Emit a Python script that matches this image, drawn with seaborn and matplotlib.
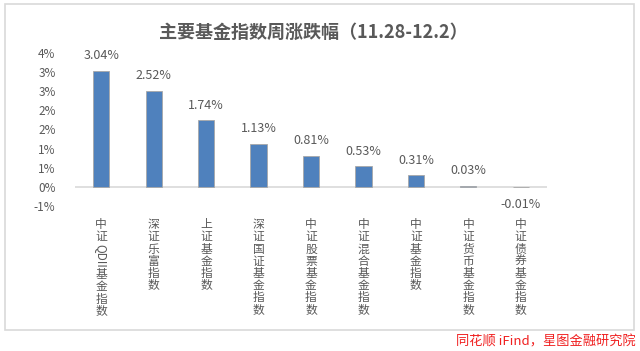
import matplotlib
matplotlib.use("Agg")
import matplotlib.pyplot as plt
import seaborn as sns
import pandas as pd
from matplotlib.patches import Rectangle

# ---- data ----
categories = ["中证QDII基金指数", "深证乐富指数", "上证基金指数", "深证国证基金指数",
              "中证股票基金指数", "中证混合基金指数", "中证基金指数", "中证货币基金指数",
              "中证债券基金指数"]
values = [3.04, 2.52, 1.74, 1.13, 0.81, 0.53, 0.31, 0.03, -0.01]
value_labels = ["3.04%", "2.52%", "1.74%", "1.13%", "0.81%", "0.53%", "0.31%", "0.03%", "-0.01%"]
ytick_values = [-0.5, 0.0, 0.5, 1.0, 1.5, 2.0, 2.5, 3.0, 3.5]
ytick_labels = ["-1%", "0%", "1%", "1%", "2%", "2%", "3%", "3%", "4%"]
title = "主要基金指数周涨跌幅（11.28-12.2）"
source = "同花顺 iFind，星图金融研究院"

sns.set_theme(style="white")
plt.rcParams["font.family"] = ["Noto Sans CJK SC", "DejaVu Sans"]
plt.rcParams["axes.unicode_minus"] = False

W, H = 640, 351
TXT = "#595959"
LAB_FS = 8.5
LSP = 0.92
fig = plt.figure(figsize=(W / 100, H / 100), dpi=100)
fig.patch.set_facecolor("white")

# outer frame
fig.add_artist(Rectangle((5 / W, 1 - 330 / H), (634 - 5) / W, (330 - 3.5) / H,
                         transform=fig.transFigure, fill=False,
                         edgecolor="#d9d9d9", linewidth=1.2))

left, right = 75 / W, 547 / W
top_px, bot_px = 53.3, 205.7
ax = fig.add_axes([left, 1 - bot_px / H, right - left, (bot_px - top_px) / H])

df = pd.DataFrame({"cat": categories, "val": values})
sns.barplot(data=df, x="cat", y="val", color="#4F81BD", width=0.31,
            edgecolor="#a8a8a8", linewidth=0.6, saturation=1, ax=ax)

ax.set_ylim(ytick_values[0], ytick_values[-1])
ax.set_xlim(-0.5, len(categories) - 0.5)
ax.axhline(0, color="#d9d9d9", linewidth=1.2, zorder=0)


def segments(text):
    """Split a label into runs of CJK characters and Latin characters."""
    segs = []
    for ch in text:
        kind = "latin" if ch.isascii() else "cjk"
        if segs and segs[-1][0] == kind:
            segs[-1][1] += ch
        else:
            segs.append([kind, ch])
    return segs


label_segs = [segments(c) for c in categories]

ax.set_yticks(ytick_values)
ax.set_yticklabels(ytick_labels, color=TXT, fontsize=8.5)
ax.set_xticks(range(len(categories)))
ax.set_xticklabels(["\n".join(s[0][1]) for s in label_segs], color=TXT,
                   fontsize=LAB_FS, linespacing=LSP, va="top")
ax.tick_params(axis="both", length=0)
ax.tick_params(axis="x", pad=9)
ax.tick_params(axis="y", pad=14)
ax.set_xlabel("")
ax.set_ylabel("")
for s in ax.spines.values():
    s.set_visible(False)

for i, (v, lab) in enumerate(zip(values, value_labels)):
    if v >= 0:
        ax.annotate(lab, (i, v), xytext=(0, 6), textcoords="offset points",
                    ha="center", va="bottom", color=TXT, fontsize=9)
    else:
        ax.annotate(lab, (i, 0), xytext=(0, -8), textcoords="offset points",
                    ha="center", va="top", color=TXT, fontsize=9)

fig.text(313 / W, 1 - 32 / H, title, ha="center", va="center",
         fontsize=13, fontweight="bold", color=TXT)
fig.text(636 / W, 1 - 342 / H, source, ha="right", va="center",
         fontsize=9.5, color="#f02020", style="italic")

# continue multi-part vertical labels (Latin runs drawn rotated, as in Excel)
fig.canvas.draw()
renderer = fig.canvas.get_renderer()
for tl, segs in zip(ax.get_xticklabels(), label_segs):
    if len(segs) == 1:
        continue
    bb = tl.get_window_extent(renderer)
    xc = (bb.x0 + bb.x1) / 2
    cursor = bb.y0 - 0.5
    for kind, run in segs[1:]:
        if kind == "latin":
            t = fig.text(xc / W, cursor / H, run, rotation=-90, ha="center",
                         va="top", fontsize=LAB_FS, color=TXT)
        else:
            t = fig.text(xc / W, cursor / H, "\n".join(run), ha="center",
                         va="top", fontsize=LAB_FS, color=TXT, linespacing=LSP)
        cursor = t.get_window_extent(renderer).y0 - 0.5

fig.savefig("out.png", dpi=100)
